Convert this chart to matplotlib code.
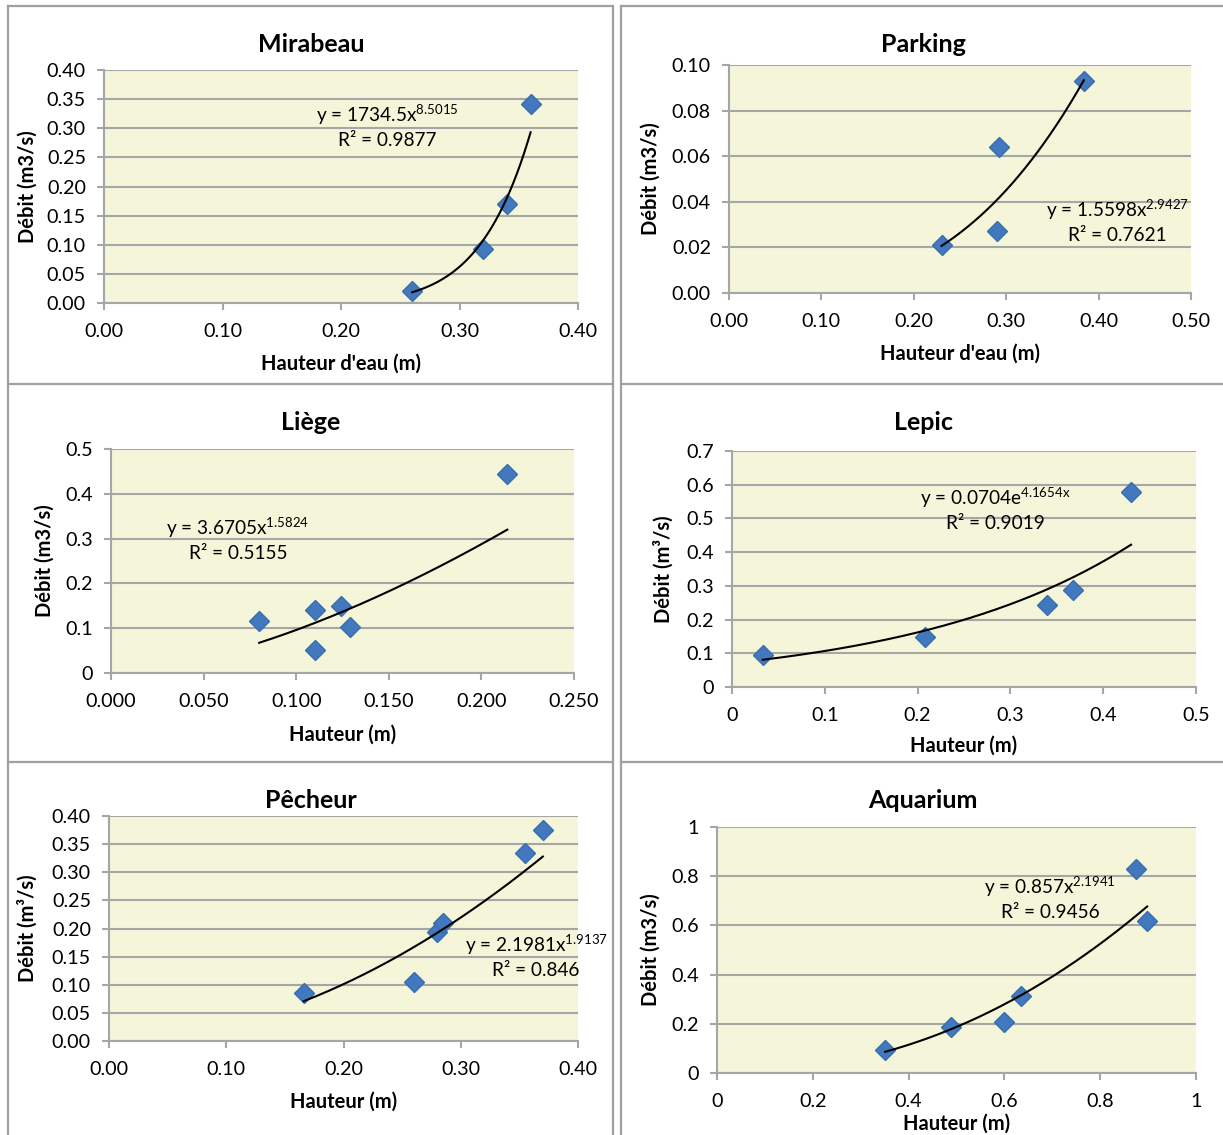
import numpy as np
import matplotlib
matplotlib.use('Agg')
import matplotlib.pyplot as plt
from matplotlib.lines import Line2D
from matplotlib.ticker import FixedLocator, FuncFormatter

W, H = 1223, 1135
plt.rcParams['font.family'] = ['Lato', 'DejaVu Sans']
plt.rcParams['mathtext.fontset'] = 'custom'
plt.rcParams['mathtext.rm'] = 'Lato'
plt.rcParams['mathtext.default'] = 'regular'

# ---------------- data ----------------
titles = ['Mirabeau', 'Parking', 'Liège', 'Lepic', 'Pêcheur', 'Aquarium']
xlabels = ["Hauteur d'eau (m)", "Hauteur d'eau (m)", 'Hauteur (m)', 'Hauteur (m)',
           'Hauteur (m)', 'Hauteur (m)']
ylabels = ['Débit (m3/s)', 'Débit (m3/s)', 'Débit (m3/s)', 'Débit (m³/s)',
           'Débit (m³/s)', 'Débit (m3/s)']

mirabeau_x = [0.26, 0.32, 0.34, 0.36]
mirabeau_y = [0.020, 0.093, 0.170, 0.342]
parking_x = [0.23, 0.292, 0.29, 0.384]
parking_y = [0.021, 0.064, 0.027, 0.093]
liege_x = [0.080, 0.110, 0.110, 0.124, 0.129, 0.214]
liege_y = [0.117, 0.140, 0.051, 0.149, 0.102, 0.444]
lepic_x = [0.033, 0.208, 0.339, 0.367, 0.430]
lepic_y = [0.095, 0.147, 0.243, 0.287, 0.578]
pecheur_x = [0.166, 0.260, 0.280, 0.285, 0.355, 0.370]
pecheur_y = [0.086, 0.105, 0.193, 0.210, 0.334, 0.375]
aquarium_x = [0.351, 0.489, 0.600, 0.635, 0.875, 0.898]
aquarium_y = [0.095, 0.185, 0.207, 0.313, 0.830, 0.617]

# trendline: type, coefficient, exponent, equation texts, R²
fit_types = ['power', 'power', 'power', 'exp', 'power', 'power']
fit_coef = [1734.5, 1.5598, 3.6705, 0.0704, 2.1981, 0.857]
fit_expo = [8.5015, 2.9427, 1.5824, 4.1654, 1.9137, 2.1941]
fit_coef_txt = ['1734.5x', '1.5598x', '3.6705x', '0.0704e', '2.1981x', '0.857x']
fit_expo_txt = ['8.5015', '2.9427', '1.5824', '4.1654x', '1.9137', '2.1941']
fit_r2 = ['0.9877', '0.7621', '0.5155', '0.9019', '0.846', '0.9456']

xlims = [0.4, 0.5, 0.25, 0.5, 0.4, 1.0]
xsteps = [0.1, 0.1, 0.05, 0.1, 0.1, 0.2]
ylims = [0.4, 0.1, 0.5, 0.7, 0.4, 1.0]
ysteps = [0.05, 0.02, 0.1, 0.1, 0.05, 0.2]
xfmts = ['{:.2f}', '{:.2f}', '{:.3f}', '{:g}', '{:.2f}', '{:g}']
yfmts = ['{:.2f}', '{:.2f}', '{:g}', '{:g}', '{:.2f}', '{:g}']

series_x = [mirabeau_x, parking_x, liege_x, lepic_x, pecheur_x, aquarium_x]
series_y = [mirabeau_y, parking_y, liege_y, lepic_y, pecheur_y, aquarium_y]

# ---------------- layout (pixels) ----------------
boxes = [(104, 578, 70, 303), (729, 1191, 65, 293),
         (111, 574, 449, 673), (732, 1196, 451, 687),
         (109, 578, 816, 1041), (717, 1196, 827, 1073)]
title_pos = [(311, 44), (923, 44), (311, 422), (923, 422), (311, 800), (923, 800)]
xlabel_y = [364, 354, 735, 746, 1102, 1124]
ylabel_x = [28, 651, 45, 664, 28, 651]
eq_pos = [(387, 115, 140), (1117, 210, 235), (238, 528, 553),
          (995, 498, 524), (536, 945, 970), (1050, 887, 912)]

GRID = '#A6A6A6'
BG = '#F5F5DA'
MFACE = '#4178BE'
MEDGE = '#3A6DAE'

fig = plt.figure(figsize=(W / 100, H / 100), dpi=100)


def fx(x):
    return x / W


def fy(y):
    return 1 - y / H


for i in range(6):
    x0, x1, yt, yb = boxes[i]
    ax = fig.add_axes([fx(x0), fy(yb), (x1 - x0) / W, (yb - yt) / H])
    ax.set_facecolor(BG)
    ax.set_xlim(0, xlims[i])
    ax.set_ylim(0, ylims[i])
    xt = np.round(np.arange(0, xlims[i] + 1e-9, xsteps[i]), 6)
    yt_ = np.round(np.arange(0, ylims[i] + 1e-9, ysteps[i]), 6)
    ax.xaxis.set_major_locator(FixedLocator(xt))
    ax.yaxis.set_major_locator(FixedLocator(yt_))
    xf, yf = xfmts[i], yfmts[i]
    ax.xaxis.set_major_formatter(FuncFormatter(lambda v, p, f=xf: f.format(v)))
    ax.yaxis.set_major_formatter(FuncFormatter(lambda v, p, f=yf: f.format(v)))
    ax.set_axisbelow(True)
    ax.grid(axis='y', color=GRID, lw=1.5)
    ax.grid(axis='x', visible=False)
    for s in ['top', 'right']:
        ax.spines[s].set_visible(False)
    for s in ['left', 'bottom']:
        ax.spines[s].set_color(GRID)
        ax.spines[s].set_linewidth(1.5)
    ax.tick_params(axis='both', direction='out', length=5, width=1.5,
                   color=GRID, labelsize=14.2, labelcolor='black')
    ax.tick_params(axis='x', pad=9.5)
    ax.tick_params(axis='y', pad=8)

    ax.plot(series_x[i], series_y[i], linestyle='none', marker='D', ms=10.5,
            mfc=MFACE, mec=MEDGE, mew=1, zorder=3, clip_on=False)

    xs = np.linspace(min(series_x[i]), max(series_x[i]), 200)
    if fit_types[i] == 'power':
        ys = fit_coef[i] * xs ** fit_expo[i]
    else:
        ys = fit_coef[i] * np.exp(fit_expo[i] * xs)
    ax.plot(xs, ys, color='black', lw=1.5, zorder=4)

    ax.set_xlabel(xlabels[i], fontsize=14.5, fontweight='bold', va='center')
    ax.xaxis.set_label_coords(0.5, (yb - xlabel_y[i]) / (yb - yt))
    ax.set_ylabel(ylabels[i], fontsize=14.5, fontweight='bold', va='center')
    ax.yaxis.set_label_coords((ylabel_x[i] - x0) / (x1 - x0), 0.5)

    tx, ty = title_pos[i]
    fig.text(fx(tx), fy(ty), titles[i], fontsize=18, fontweight='bold',
             ha='center', va='center')
    ex, ey1, ey2 = eq_pos[i]
    fig.text(fx(ex), fy(ey1), 'y = ' + fit_coef_txt[i] + '$^{' + fit_expo_txt[i] + '}$',
             fontsize=13.7, ha='center', va='center')
    fig.text(fx(ex), fy(ey2), 'R² = ' + fit_r2[i], fontsize=13.7,
             ha='center', va='center')

# panel borders
BORDER = '#A0A0A0'
segs = [((8, 8), (6, H)), ((613.5, 613.5), (6, H)), ((620.5, 620.5), (6, H)),
        ((8, 613.5), (6, 6)), ((620.5, W), (6, 6)),
        ((8, 613.5), (384, 384)), ((620.5, W), (384, 384)),
        ((8, 613.5), (762, 762)), ((620.5, W), (762, 762))]
for (xa, xb), (ya, yb2) in segs:
    fig.add_artist(Line2D([fx(xa), fx(xb)], [fy(ya), fy(yb2)],
                          transform=fig.transFigure, color=BORDER, lw=1.6))

fig.savefig('out.png', dpi=100)
